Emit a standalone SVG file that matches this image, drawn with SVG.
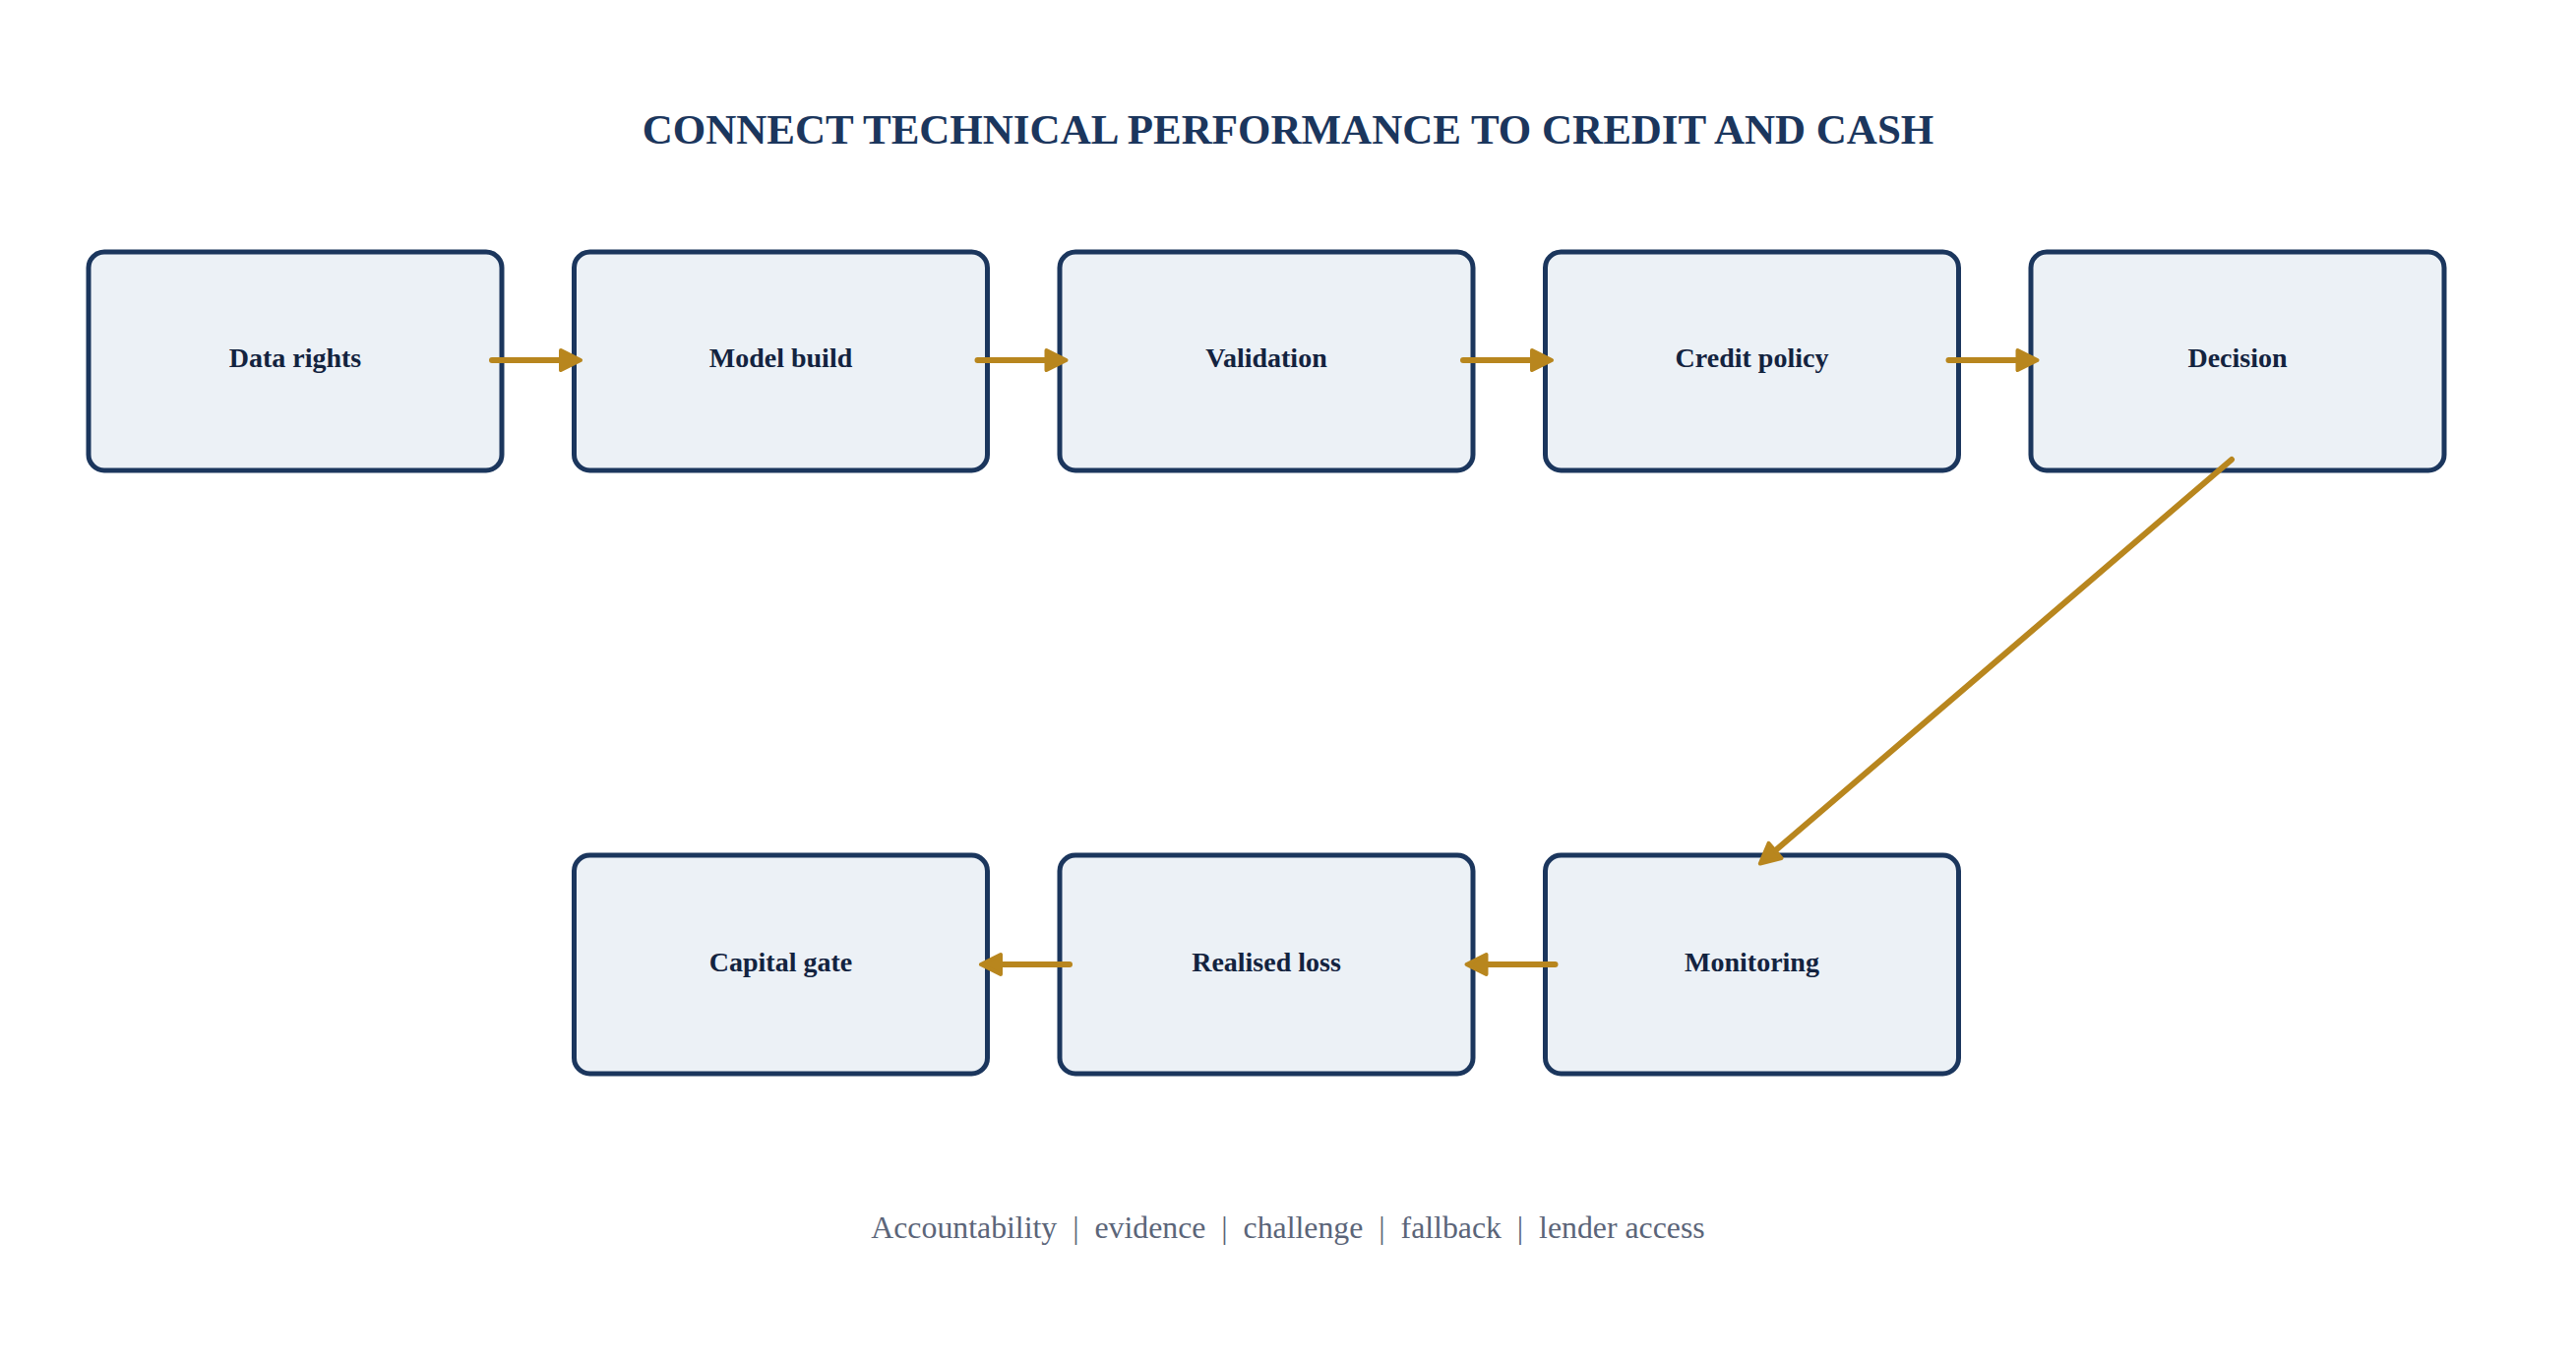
<svg xmlns="http://www.w3.org/2000/svg" width="2618" height="1386" viewBox="0 0 2618 1386">
  <style>
    .node rect { fill: #ecf1f6; stroke: #1b365d; stroke-width: 5; }
    .node text { font-family: "Liberation Serif", "Times New Roman", serif; font-weight: bold; font-size: 28px; fill: #13233f; text-anchor: middle; }
    .title { font-family: "Liberation Serif", "Times New Roman", serif; font-weight: bold; font-size: 43px; fill: #1b365d; text-anchor: middle; }
    .footer { font-family: "Liberation Serif", "Times New Roman", serif; font-size: 31.8px; fill: #5b6579; text-anchor: middle; }
    .conn line { stroke: #b8861e; stroke-width: 6; stroke-linecap: round; fill: none; }
  </style>
  <defs>
    <marker id="arrow" markerUnits="userSpaceOnUse" markerWidth="34" markerHeight="34" refX="0" refY="0" viewBox="-5 -16 34 32" orient="auto" overflow="visible">
      <path d="M0,-10 L20,0 L0,10 Z" fill="#b8861e" stroke="#b8861e" stroke-width="4" stroke-linejoin="round"/>
    </marker>
  </defs>
  <rect width="2618" height="1386" fill="#ffffff"/>
  <text class="title" x="1309" y="146">CONNECT TECHNICAL PERFORMANCE TO CREDIT AND CASH</text>

  <g id="n-data-rights" class="node"><rect x="90" y="256" width="420" height="222" rx="16"/><text x="300" y="373">Data rights</text></g>
  <g id="n-model-build" class="node"><rect x="583.5" y="256" width="420" height="222" rx="16"/><text x="793.5" y="373">Model build</text></g>
  <g id="n-validation" class="node"><rect x="1077" y="256" width="420" height="222" rx="16"/><text x="1287" y="373">Validation</text></g>
  <g id="n-credit-policy" class="node"><rect x="1570.5" y="256" width="420" height="222" rx="16"/><text x="1780.5" y="373">Credit policy</text></g>
  <g id="n-decision" class="node"><rect x="2064" y="256" width="420" height="222" rx="16"/><text x="2274" y="373">Decision</text></g>
  <g id="n-monitoring" class="node"><rect x="1570.5" y="869" width="420" height="222" rx="16"/><text x="1780.5" y="986.5">Monitoring</text></g>
  <g id="n-realised-loss" class="node"><rect x="1077" y="869" width="420" height="222" rx="16"/><text x="1287" y="986.5">Realised loss</text></g>
  <g id="n-capital-gate" class="node"><rect x="583.5" y="869" width="420" height="222" rx="16"/><text x="793.5" y="986.5">Capital gate</text></g>

  <g id="connectors" class="conn">
    <line x1="500" y1="366" x2="570" y2="366" marker-end="url(#arrow)"/>
    <line x1="993.5" y1="366" x2="1063.5" y2="366" marker-end="url(#arrow)"/>
    <line x1="1487" y1="366" x2="1557" y2="366" marker-end="url(#arrow)"/>
    <line x1="1980.5" y1="366" x2="2050.5" y2="366" marker-end="url(#arrow)"/>
    <line x1="2268" y1="467" x2="1804" y2="864.5" marker-end="url(#arrow)"/>
    <line x1="1580.5" y1="980" x2="1510.5" y2="980" marker-end="url(#arrow)"/>
    <line x1="1087" y1="980" x2="1017" y2="980" marker-end="url(#arrow)"/>
  </g>

  <text class="footer" x="1309" y="1258" xml:space="preserve">Accountability  |  evidence  |  challenge  |  fallback  |  lender access</text>
</svg>
